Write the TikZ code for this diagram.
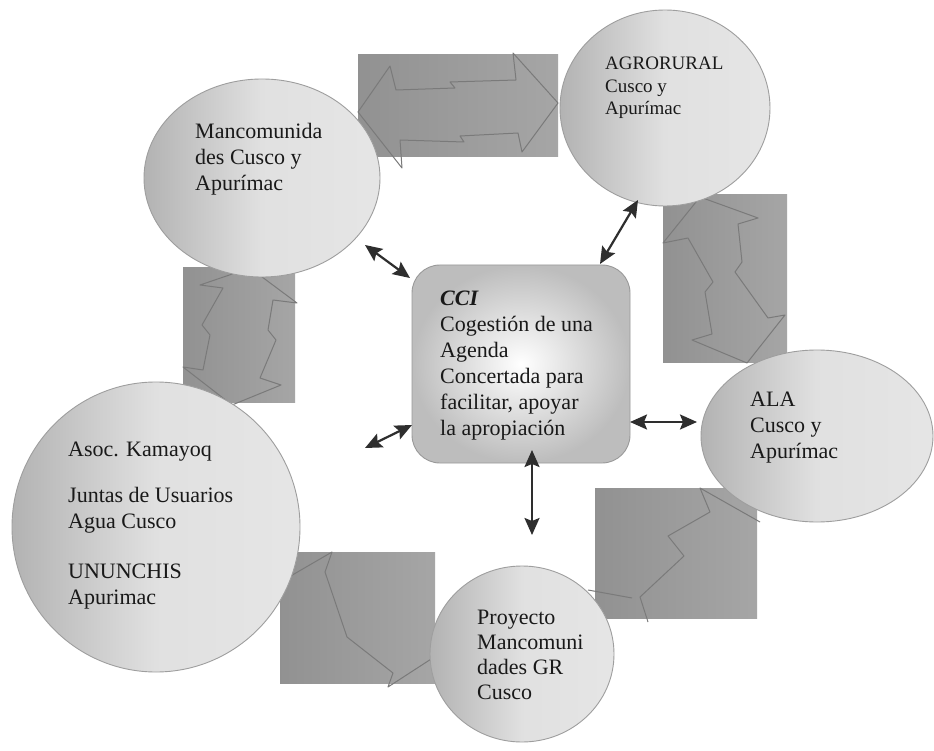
\documentclass[tikz,border=0pt]{standalone}
\usepackage{fontspec}
\setmainfont{Liberation Serif}
\usetikzlibrary{shapes.geometric,arrows.meta}
\begin{document}
\begin{tikzpicture}[x=1pt,y=-1pt,
  bub/.style={ellipse, draw=black!38, line width=0.9pt, left color=black!30, right color=black!10, middle color=black!12, inner sep=0pt},
  blockbg/.style={left color=black!43, right color=black!35},
  zig/.style={draw=black!52, line width=1pt, line join=round},
  txt/.style={anchor=west, align=left, inner sep=0pt, text=black!90, font=\fontsize{22}{26}\selectfont},
  dbl/.style={{Stealth[length=17pt,width=15pt,inset=3pt]}-{Stealth[length=17pt,width=15pt,inset=3pt]}, line width=2.2pt, draw=black!82}
]
\useasboundingbox (0,0) rectangle (934,751);
\fill[white] (0,0) rectangle (934,751);

% gray connector blocks
\fill[blockbg] (358,55) rectangle (558,157);
\fill[blockbg] (663,195) rectangle (787,362);
\fill[blockbg] (183,268) rectangle (295,402);
\fill[blockbg] (280,552) rectangle (435,683);
\fill[blockbg] (595,488) rectangle (757,618);

% zig-zag double arrow outlines
\draw[zig] (358,112) -- (390,66) -- (396,90) -- (455,88) -- (450,82) -- (516,80) -- (513,53) -- (558,103) -- (522,152) -- (518,133) -- (460,136) -- (464,142) -- (400,140) -- (402,168) -- cycle;
\draw[zig] (700,197) -- (758,218) -- (738,224) -- (742,262) -- (735,272) -- (768,318) -- (785,315) -- (747,363) -- (692,340) -- (712,334) -- (705,292) -- (713,282) -- (688,238) -- (663,243) -- cycle;
\draw[zig] (250,268) -- (297,303) -- (273,300) -- (268,330) -- (276,340) -- (260,378) -- (281,385) -- (232,405) -- (183,367) -- (203,370) -- (210,335) -- (202,325) -- (223,288) -- (200,285) -- cycle;
\draw[zig] (270,588) -- (332,552) -- (325,572) -- (347,637) -- (393,673) -- (388,687) -- (445,650);
\draw[zig] (760,522) -- (700,488) -- (710,512) -- (668,536) -- (684,556) -- (640,597) -- (648,622);
\draw[zig] (588,590) -- (632,598);

% bubbles
\node[bub, minimum width=236pt, minimum height=198pt] (mancom) at (262,178) {};
\node[bub, minimum width=210pt, minimum height=196pt] (agro) at (665,108) {};
\node[bub, minimum width=232pt, minimum height=172pt] (ala) at (817,436) {};
\node[bub, minimum width=184pt, minimum height=176pt] (proy) at (522,654) {};
\node[bub, minimum width=288pt, minimum height=290pt] (asoc) at (156,527) {};

% central box
\node[draw=black!40, line width=0.9pt, rounded corners=28pt, inner color=white, outer color=black!26,
      minimum width=218pt, minimum height=198pt] (cci) at (521,364) {};

% texts
\node[txt] (tmancom) at (195,159) {Mancomunida\\des Cusco y\\Apurímac};
\node[txt, font=\fontsize{19}{22.5}\selectfont] (tagro) at (605,88) {AGRORURAL\\Cusco y\\Apurímac};
\node[txt] (tala) at (750,428) {ALA\\Cusco y\\Apurímac};
\node[txt, font=\fontsize{22}{25}\selectfont] (tproy) at (477,655) {Proyecto\\Mancomuni\\dades GR\\Cusco};
\node[txt] (tasoc) at (68,526) {Asoc. Kamayoq\\[20pt]Juntas de Usuarios\\Agua Cusco\\[24pt]UNUNCHIS\\Apurimac};
\node[txt] (tcci) at (440,366) {\textbf{\textit{CCI}}\\Cogestión de una\\Agenda\\Concertada para\\facilitar, apoyar\\la apropiación};

% double arrows
\coordinate (a1) at (365,245); \coordinate (a2) at (410,278);
\coordinate (b1) at (600,264); \coordinate (b2) at (638,200);
\coordinate (c1) at (365,448); \coordinate (c2) at (412,425);
\coordinate (d1) at (630,422); \coordinate (d2) at (697,422);
\coordinate (e1) at (532,450); \coordinate (e2) at (532,535);
\draw[dbl] (a1) -- (a2);
\draw[dbl] (b1) -- (b2);
\draw[dbl] (c1) -- (c2);
\draw[dbl] (d1) -- (d2);
\draw[dbl] (e1) -- (e2);
\end{tikzpicture}
\end{document}
